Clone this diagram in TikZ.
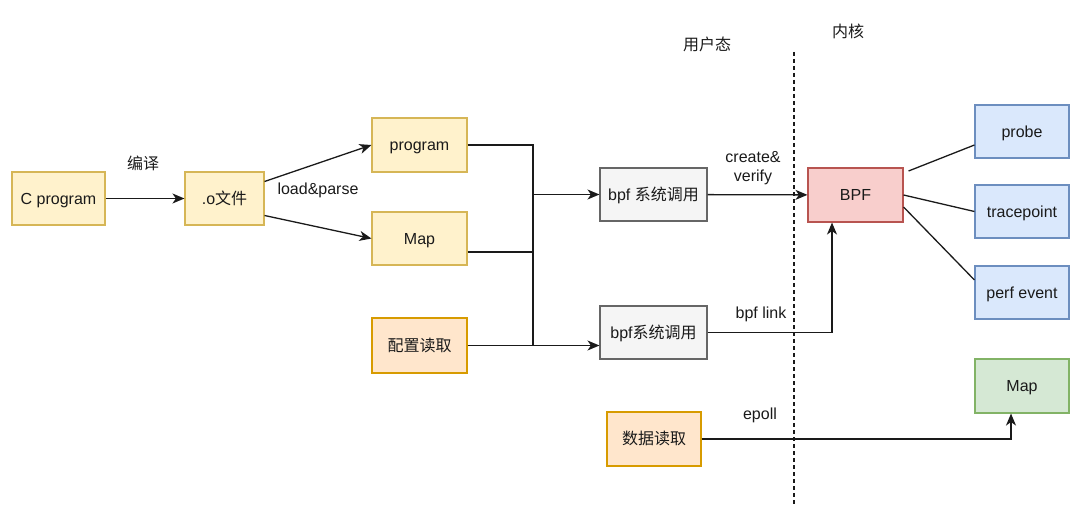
\documentclass[tikz,border=0pt]{standalone}
\usepackage{fontspec}
\setmainfont{Liberation Sans}
\newfontfamily\cjk{Noto Sans CJK SC}
\usetikzlibrary{arrows.meta}
\definecolor{yfill}{HTML}{FFF2CC}\definecolor{ydraw}{HTML}{D6B656}
\definecolor{ofill}{HTML}{FFE6CC}\definecolor{odraw}{HTML}{D79B00}
\definecolor{gfill}{HTML}{F5F5F5}\definecolor{gdraw}{HTML}{666666}
\definecolor{rfill}{HTML}{F8CECC}\definecolor{rdraw}{HTML}{B85450}
\definecolor{bfill}{HTML}{DAE8FC}\definecolor{bdraw}{HTML}{6C8EBF}
\definecolor{grfill}{HTML}{D5E8D4}\definecolor{grdraw}{HTML}{82B366}
\definecolor{txt}{HTML}{1A1A1A}
\begin{document}
\begin{tikzpicture}[x=1pt,y=-1pt,
  font=\fontsize{16}{19}\selectfont, text=txt,
  box/.style={draw, line width=1.1pt, inner sep=0pt, text height=12pt, text depth=1pt, minimum width=94pt, minimum height=54pt},
  ybox/.style={box, fill=yfill, draw=ydraw},
  obox/.style={box, fill=ofill, draw=odraw},
  gbox/.style={box, fill=gfill, draw=gdraw},
  rbox/.style={box, fill=rfill, draw=rdraw},
  bbox/.style={box, fill=bfill, draw=bdraw},
  grbox/.style={box, fill=grfill, draw=grdraw},
  conn/.style={draw=txt, line width=1.3pt},
  arr/.style={conn, -{Stealth[length=12pt,width=10pt,inset=3.5pt]}},
  lbl/.style={inner sep=0pt, align=center}]
\useasboundingbox (0,0) rectangle (1080,519);
% nodes
\node[ybox, minimum width=93pt, minimum height=53pt] (cprog) at (58.5,198.5) {C program};
\node[ybox, minimum width=79pt, minimum height=53pt] (obj) at (224.5,198.5) {.o{\cjk 文件}};
\node[ybox, minimum width=95pt] (program) at (419.5,145) {program};
\node[ybox, minimum width=95pt, minimum height=53pt] (map1) at (419.5,238.5) {Map};
\node[obox, minimum width=95pt, minimum height=55pt] (config) at (419.5,345.5) {\cjk 配置读取};
\node[gbox, minimum width=107pt, minimum height=53pt] (bpf1) at (653.5,194.5) {bpf {\cjk 系统调用}};
\node[gbox, minimum width=107pt, minimum height=53pt] (bpf2) at (653.5,332.5) {bpf{\cjk 系统调用}};
\node[rbox, minimum width=95pt] (bpf) at (855.5,195) {BPF};
\node[bbox, minimum height=53pt] (probe) at (1022,131.5) {probe};
\node[bbox, minimum height=53pt] (trace) at (1022,211.5) {tracepoint};
\node[bbox, minimum height=53pt] (perf) at (1022,292.5) {perf event};
\node[grbox] (map2) at (1022,386) {Map};
\node[obox] (data) at (654,439) {\cjk 数据读取};
% labels
\node[lbl] (lcompile) at (143,163) {\cjk 编译};
\node[lbl] (lload) at (318,190) {load\&parse};
\node[lbl] (lcreate) at (753,168) {create\&\\verify};
\node[lbl] (llink) at (761,314) {bpf link};
\node[lbl] (lepoll) at (760,415) {epoll};
\node[lbl] (luser) at (707,44) {\cjk 用户态};
\node[lbl] (lkernel) at (848,31) {\cjk 内核};
% divider
\coordinate (dtop) at (794,52);
\coordinate (dbot) at (794,505);
\draw[txt, line width=1.3pt, dash pattern=on 4pt off 3pt] (dtop) -- (dbot);
% connectors
\draw[arr] (cprog) -- (obj);
\draw[arr] ([yshift=17pt]obj.east) -- (program.west);
\draw[arr] ([yshift=-17pt]obj.east) -- (map1.west);
\coordinate (jt) at (533,145);
\coordinate (jb) at (533,345.5);
\draw[conn] (program.east) -- (jt) -- (jb);
\draw[conn] ([yshift=-13.5pt]map1.east) -- ([yshift=-13.5pt]map1.east -| jt);
\draw[arr] (jt |- bpf1.west) -- (bpf1.west);
\draw[arr] (config.east) -- (config.east -| bpf2.west);
\draw[arr] (bpf1) -- (bpf);
\draw[arr] (bpf2.east) -| ([xshift=-23.5pt]bpf.south);
\draw[conn] ([xshift=5pt,yshift=24pt]bpf.east) -- ([yshift=-13.5pt]probe.west);
\draw[conn] (bpf.east) -- (trace.west);
\draw[conn] ([yshift=-12pt]bpf.east) -- ([yshift=12.5pt]perf.west);
\draw[arr] (data.east) -| ([xshift=-11pt]map2.south);
\end{tikzpicture}
\end{document}
